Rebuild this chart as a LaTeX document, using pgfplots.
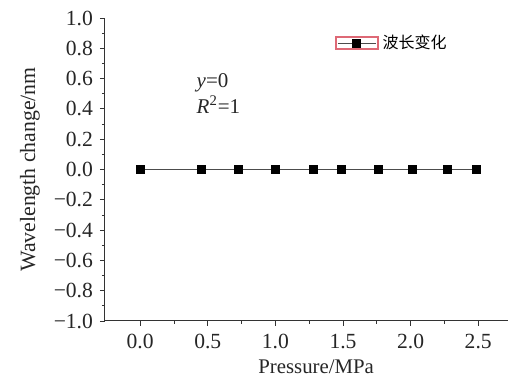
\documentclass[border=0pt]{standalone}
\usepackage{fontspec}
\setmainfont{Liberation Serif}
\newfontfamily\cjk{Noto Sans CJK SC}
\usepackage{pgfplots}
\pgfplotsset{compat=1.18}
\definecolor{legred}{RGB}{222,105,118}
\begin{document}
\begin{tikzpicture}
\begin{axis}[
  scale only axis,
  width=201.5pt, height=151.5pt,
  xmin=-0.26, xmax=2.72,
  ymin=-1, ymax=1,
  axis x line=bottom, axis y line=left,
  axis line style={-, black!80, line width=0.5pt},
  tick align=outside,
  major tick length=2.5pt, minor tick length=1.5pt,
  tick style={black!80, line width=0.4pt},
  xtick={0,0.5,1,1.5,2,2.5},
  xticklabels={0.0,0.5,1.0,1.5,2.0,2.5},
  ytick={-1,-0.8,-0.6,-0.4,-0.2,0,0.2,0.4,0.6,0.8,1},
  yticklabels={−1.0,−0.8,−0.6,−0.4,−0.2,0.0,0.2,0.4,0.6,0.8,1.0},
  minor x tick num=1, minor y tick num=1,
  tick label style={font=\fontsize{10.8}{12}\selectfont, text=black!85},
  xticklabel style={yshift=-0.5pt},
  xlabel={Pressure/MPa},
  ylabel={Wavelength change/nm},
  xlabel style={font=\fontsize{10.4}{12}\selectfont, text=black!85, at={(axis description cs:0.524,-0.152)}, anchor=center},
  ylabel style={font=\fontsize{10.9}{12}\selectfont, text=black!85, at={(axis description cs:-0.186,0.5)}, anchor=center},
  legend style={draw=none, fill=none, at={(rel axis cs:0.57,0.917)}, anchor=west,
    font=\cjk\fontsize{8}{9}\selectfont, inner sep=0pt,
    legend cell align=left},
]
\addplot[black!70, line width=0.4pt, mark=square*, mark size=2pt,
  mark options={fill=black, draw=black}, forget plot]
  coordinates {
  (0,0) (0.45,0) (0.73,0) (1.0,0) (1.28,0) (1.49,0) (1.76,0) (2.01,0) (2.27,0) (2.49,0)
  };
\addlegendimage{legend image code/.code={
    \draw[draw=legred, line width=0.7pt] (0pt,-3pt) rectangle (21pt,3pt);
    \draw[draw=black!70, line width=0.4pt] (1pt,0pt) -- (20pt,0pt);
    \fill[fill=black] (8.5pt,-2pt) rectangle (12.5pt,2pt);
  }}
\addlegendentry{波长变化}
\node[anchor=west, font=\fontsize{10.5}{12}\selectfont, text=black!85] at (rel axis cs:0.21,0.785) {\textit{y}=0};
\node[anchor=west, font=\fontsize{10.5}{12}\selectfont, text=black!85] at (rel axis cs:0.21,0.713) {\textit{R}\textsuperscript{2}=1};
\end{axis}
\pgfresetboundingbox
\useasboundingbox (-52.5pt,-29pt) rectangle (202.5pt,160.5pt);
\end{tikzpicture}
\end{document}
